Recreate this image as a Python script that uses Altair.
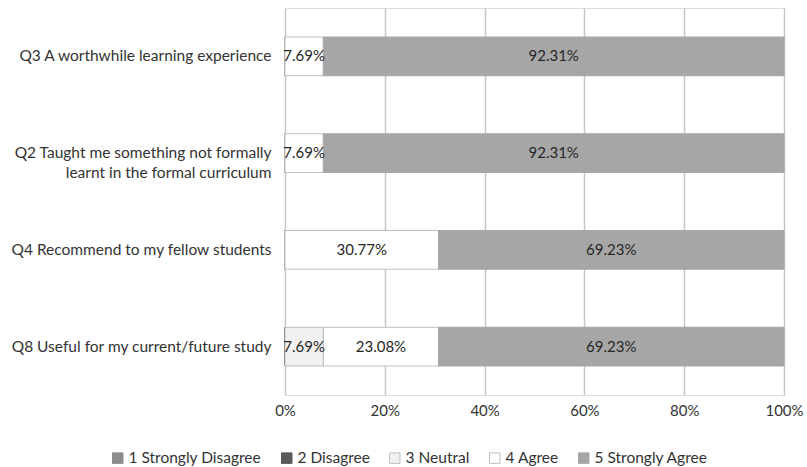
import altair as alt
import pandas as pd

questions = [
    "Q3 A worthwhile learning experience",
    "Q2 Taught me something not formally|learnt in the formal curriculum",
    "Q4 Recommend to my fellow students",
    "Q8 Useful for my current/future study",
]
categories = ["1 Strongly Disagree", "2 Disagree", "3 Neutral", "4 Agree", "5 Strongly Agree"]
strongly_disagree = [0, 0, 0, 0]
disagree = [0, 0, 0, 0]
neutral = [0, 0, 0, 7.69]
agree = [7.69, 7.69, 30.77, 23.08]
strongly_agree = [92.31, 92.31, 69.23, 69.23]

fills = ["#8C8C8C", "#595959", "#F1F1F1", "#FFFFFF", "#A6A6A6"]
strokes = ["#8C8C8C", "#595959", "#BFBFBF", "#BFBFBF", "#A6A6A6"]

rows = []
for series, cat in zip([strongly_disagree, disagree, neutral, agree, strongly_agree], categories):
    for i, q in enumerate(questions):
        rows.append({"q": q, "cat": cat, "order": categories.index(cat), "v": series[i] / 100.0})
df = pd.DataFrame(rows)

FONT = "Lato"
FS = 15.5

base = alt.Chart(df).transform_stack(
    stack="v", groupby=["q"], as_=["x0", "x1"], sort=[alt.SortField("order", "ascending")]
).transform_calculate(
    mid="(datum.x0 + datum.x1) / 2",
    lbl="format(datum.v * 100, '.2f') + '%'",
)

yenc = alt.Y(
    "q:N",
    sort=questions,
    title=None,
    scale=alt.Scale(paddingInner=0.6, paddingOuter=0.3),
    axis=alt.Axis(
        labelExpr="split(datum.label, '|')",
        labelFontSize=FS,
        labelFont=FONT,
        labelColor="#333333",
        labelLimit=400,
        labelPadding=14,
        domain=False,
        ticks=False,
        labelLineHeight=20,
    ),
)

bars = base.mark_bar(strokeWidth=1).encode(
    x=alt.X(
        "x0:Q",
        scale=alt.Scale(domain=[0, 1], nice=False),
        title=None,
        axis=alt.Axis(
            format="%",
            values=[0, 0.2, 0.4, 0.6, 0.8, 1.0],
            grid=True,
            gridColor="#C6C6C6",
            gridWidth=1.5,
            domain=False,
            ticks=False,
            labelFlush=False,
            labelFontSize=15,
            labelFont=FONT,
            labelColor="#333333",
            labelPadding=8,
        ),
    ),
    x2="x1:Q",
    y=yenc,
    fill=alt.Fill(
        "cat:N",
        scale=alt.Scale(domain=categories, range=fills),
        legend=alt.Legend(
            title=None,
            orient="none",
            direction="horizontal",
            legendX=-175,
            legendY=442,
            symbolType="square",
            symbolSize=110,
            symbolStrokeColor="#A0A0A0",
            symbolStrokeWidth=1,
            labelFontSize=FS,
            labelFont=FONT,
            labelColor="#333333",
            columnPadding=17,
            labelOffset=3,
        ),
    ),
    stroke=alt.Stroke("cat:N", scale=alt.Scale(domain=categories, range=strokes), legend=None),
    order=alt.Order("order:Q"),
)

labels = base.transform_filter("datum.v > 0").mark_text(
    fontSize=15, font=FONT, color="#262626"
).encode(
    x=alt.X("mid:Q"),
    y=alt.Y("q:N", sort=questions),
    text="lbl:N",
)

chart = (
    alt.layer(bars, labels)
    .properties(
        width=499,
        height=387,
        padding={"left": 285, "top": 8, "right": 23, "bottom": 72},
        autosize=alt.AutoSizeParams(type="none"),
    )
    .configure_view(stroke=None)
    .configure(background="#FFFFFF")
)

chart.save("out.html", embed_options={"renderer": "svg", "actions": False})
